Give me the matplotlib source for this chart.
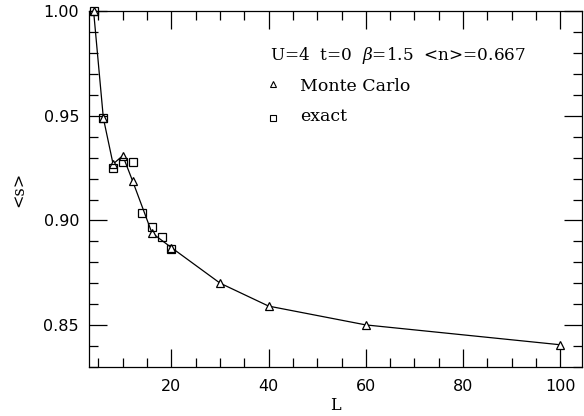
import matplotlib
matplotlib.use("Agg")
import matplotlib.pyplot as plt
from matplotlib.ticker import MultipleLocator

# Monte Carlo data
L_mc = [4, 6, 8, 10, 12, 16, 20, 30, 40, 60, 100]
s_mc = [1.000, 0.949, 0.927, 0.931, 0.919, 0.894, 0.887, 0.870, 0.859, 0.850, 0.8405]
# exact data
L_ex = [4, 6, 8, 10, 12, 14, 16, 18, 20]
s_ex = [1.000, 0.949, 0.925, 0.928, 0.928, 0.9035, 0.897, 0.892, 0.8865]

header = "U=4  t=0  $\\beta$=1.5  <n>=0.667"
lbl_mc = "Monte Carlo"
lbl_ex = "exact"

fig = plt.figure(figsize=(5.84, 4.16), dpi=100)
ax = fig.add_axes([0.152, 0.1185, 0.844, 0.8539])

serif = "DejaVu Serif"
plt.rcParams['mathtext.fontset'] = 'dejavuserif'

ax.plot(L_mc, s_mc, color="black", lw=0.9, zorder=2, clip_on=False)
ax.plot(L_mc, s_mc, linestyle="none", marker="^", ms=6, mfc="white",
        mec="black", mew=0.9, zorder=3, clip_on=False)
ax.plot(L_ex, s_ex, linestyle="none", marker="s", ms=5.5, mfc="none",
        mec="black", mew=0.9, zorder=4, clip_on=False)

ax.set_xlim(3, 104.4)
ax.set_ylim(0.83, 1.00)
ax.xaxis.set_major_locator(MultipleLocator(20))
ax.xaxis.set_minor_locator(MultipleLocator(5))
ax.yaxis.set_major_locator(MultipleLocator(0.05))
ax.yaxis.set_minor_locator(MultipleLocator(0.01))
ax.tick_params(which="both", direction="in", top=True, right=True, width=0.9)
ax.tick_params(which="major", length=13)
ax.tick_params(which="minor", length=6.5)
ax.tick_params(axis="x", pad=9)
ax.tick_params(axis="y", pad=7)
ax.set_xticks([20, 40, 60, 80, 100])
ax.set_xticklabels(["20", "40", "60", "80", "100"])
ax.set_yticks([0.85, 0.90, 0.95, 1.00])
ax.set_yticklabels(["0.85", "0.90", "0.95", "1.00"])
for t in ax.get_xticklabels() + ax.get_yticklabels():
    t.set_fontfamily("DejaVu Sans")
    t.set_fontsize(11.5)
for sp in ax.spines.values():
    sp.set_linewidth(0.9)

ax.set_xlabel("L", fontfamily=serif, fontsize=11.5, labelpad=2)
ax.set_ylabel("<s>", fontfamily=serif, fontsize=11.5, labelpad=12)

ax.text(0.368, 0.877, header, transform=ax.transAxes, fontfamily=serif,
        fontsize=12.2, va="center", ha="left")
ax.plot([0.3745], [0.795], transform=ax.transAxes, marker="^", ms=5,
        mfc="white", mec="black", mew=0.8, linestyle="none")
ax.text(0.4286, 0.79, lbl_mc, transform=ax.transAxes, fontfamily=serif,
        fontsize=12.5, va="center", ha="left")
ax.plot([0.3745], [0.70], transform=ax.transAxes, marker="s", ms=4.5,
        mfc="white", mec="black", mew=0.8, linestyle="none")
ax.text(0.4286, 0.704, lbl_ex, transform=ax.transAxes, fontfamily=serif,
        fontsize=12.5, va="center", ha="left")

fig.savefig("out.png", dpi=100)
